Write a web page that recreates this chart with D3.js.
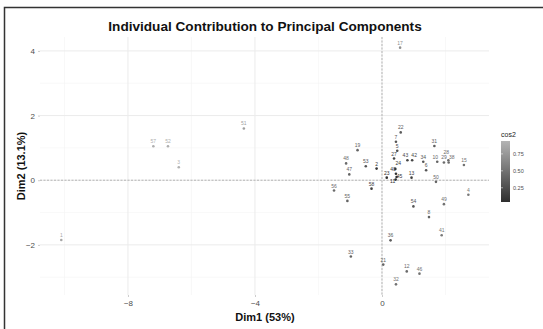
<!DOCTYPE html>
<html>
<head>
<meta charset="utf-8">
<script src="https://cdn.jsdelivr.net/npm/d3@7"></script>
<style>
  body { margin: 0; background: #fff; }
  text { font-family: "Liberation Sans", Arial, sans-serif; }
</style>
</head>
<body>
<div id="chart"></div>
<script>
'use strict';

// individuals, coordinates on Dim1 / Dim2 and their cos2
var labels = ["1", "57", "52", "3", "51", "17", "22", "7", "5", "27",
  "19", "48", "47", "53", "2", "23", "24", "40", "45", "11",
  "43", "42", "13", "34", "6", "31", "10", "29", "28", "38",
  "15", "50", "4", "56", "58", "55", "54", "49", "8", "36",
  "41", "33", "21", "12", "46", "32"];
var dim1 = [-10.1, -7.2, -6.74, -6.4, -4.35, 0.57, 0.59, 0.44, 0.48, 0.38,
  -0.77, -1.13, -1.03, -0.51, -0.17, 0.15, 0.42, 0.44, 0.46, 0.43,
  0.8, 0.95, 0.93, 1.3, 1.39, 1.65, 1.74, 1.95, 2.09, 2.1,
  2.58, 1.7, 2.72, -1.51, -0.33, -1.09, 0.99, 1.95, 1.48, 0.27,
  1.88, -0.98, 0.04, 0.78, 1.18, 0.44];
var dim2 = [-1.85, 1.05, 1.05, 0.4, 1.6, 4.1, 1.48, 1.19, 0.91, 0.67,
  0.93, 0.52, 0.18, 0.43, 0.36, 0.08, 0.35, 0.2, 0.1, 0.02,
  0.62, 0.62, 0.08, 0.57, 0.31, 1.06, 0.57, 0.55, 0.62, 0.55,
  0.47, -0.05, -0.45, -0.32, -0.26, -0.64, -0.81, -0.74, -1.14, -1.86,
  -1.7, -2.36, -2.61, -2.82, -2.89, -3.22];
var cos2 = [0.85, 0.9, 0.9, 0.92, 0.8, 0.7, 0.35, 0.3, 0.25, 0.2,
  0.4, 0.45, 0.4, 0.3, 0.1, 0.05, 0.1, 0.08, 0.06, 0.05,
  0.2, 0.2, 0.15, 0.3, 0.3, 0.35, 0.4, 0.45, 0.45, 0.45,
  0.5, 0.4, 0.55, 0.45, 0.15, 0.4, 0.3, 0.5, 0.4, 0.35,
  0.55, 0.4, 0.4, 0.45, 0.5, 0.5];

var xTicks = [-8, -4, 0];
var yTicks = [-2, 0, 2, 4];
var legendTicks = [0.25, 0.5, 0.75];

var width = 543, height = 329;
var panel = {left: 40, right: 489, top: 37, bottom: 295};

var svg = d3.select('#chart').append('svg')
  .attr('width', width).attr('height', height);

// frame (top and left edges only, as in the screenshot)
svg.append('path').attr('d', 'M4.5,329V7.5H543')
  .attr('fill', 'none').attr('stroke', '#333').attr('stroke-width', 1.5);

var x = d3.scaleLinear().domain([-10.77, 3.37]).range([panel.left, panel.right]);
var y = d3.scaleLinear().domain([-3.55, 4.43]).range([panel.bottom, panel.top]);
var color = d3.scaleLinear().domain([0.04, 0.94]).range(['#2e2e2e', '#b4b4b4']);

// grid: minor then major
var minorX = [-10, -6, -2, 2], minorY = [-3, -1, 1, 3];
var grid = svg.append('g');
grid.selectAll('.mx').data(minorX).join('line')
  .attr('x1', d => x(d)).attr('x2', d => x(d))
  .attr('y1', panel.top).attr('y2', panel.bottom)
  .attr('stroke', '#f3f3f3').attr('stroke-width', 0.6);
grid.selectAll('.my').data(minorY).join('line')
  .attr('y1', d => y(d)).attr('y2', d => y(d))
  .attr('x1', panel.left).attr('x2', panel.right)
  .attr('stroke', '#f3f3f3').attr('stroke-width', 0.6);
grid.selectAll('.Mx').data(xTicks).join('line')
  .attr('x1', d => x(d)).attr('x2', d => x(d))
  .attr('y1', panel.top).attr('y2', panel.bottom)
  .attr('stroke', '#ebebeb').attr('stroke-width', 1);
grid.selectAll('.My').data(yTicks).join('line')
  .attr('y1', d => y(d)).attr('y2', d => y(d))
  .attr('x1', panel.left).attr('x2', panel.right)
  .attr('stroke', '#ebebeb').attr('stroke-width', 1);

// zero lines
svg.append('line').attr('x1', panel.left).attr('x2', panel.right)
  .attr('y1', y(0)).attr('y2', y(0))
  .attr('stroke', '#999').attr('stroke-width', 0.7).attr('stroke-dasharray', '2,1.5');
svg.append('line').attr('x1', x(0)).attr('x2', x(0))
  .attr('y1', panel.top).attr('y2', panel.bottom)
  .attr('stroke', '#999').attr('stroke-width', 0.7).attr('stroke-dasharray', '2,1.5');

// axes
var xAxis = svg.append('g').attr('transform', `translate(0,${panel.bottom})`)
  .call(d3.axisBottom(x).tickValues(xTicks).tickSize(2).tickPadding(3));
var yAxis = svg.append('g').attr('transform', `translate(${panel.left},0)`)
  .call(d3.axisLeft(y).tickValues(yTicks).tickSize(2).tickPadding(3));
[xAxis, yAxis].forEach(function(a) {
  a.select('.domain').remove();
  a.selectAll('.tick line').attr('stroke', '#ccc');
  a.selectAll('.tick text').attr('fill', '#4d4d4d').style('font-size', '8px')
    .style('font-family', '"Liberation Sans", Arial, sans-serif');
});

// points and labels
var pts = labels.map((l, i) => ({label: l, x: dim1[i], y: dim2[i], c: cos2[i]}));
svg.append('g').selectAll('circle').data(pts).join('circle')
  .attr('cx', d => x(d.x)).attr('cy', d => y(d.y)).attr('r', 1.3)
  .attr('fill', d => color(d.c));

// crowded labels get pushed apart a little (the original simply overlaps)
var nudge = {'28': [-2, -3], '38': [3, 0], '10': [-2, 0], '40': [-3, 0], '45': [3, 4],
  '11': [-3, 6], '24': [3, -1], '42': [2, 0], '43': [-2, 0]};
svg.append('g').selectAll('text').data(pts).join('text')
  .attr('x', d => x(d.x) + (nudge[d.label] ? nudge[d.label][0] : 0))
  .attr('y', d => y(d.y) - 3 + (nudge[d.label] ? nudge[d.label][1] : 0))
  .attr('text-anchor', 'middle').style('font-size', '5px')
  .attr('fill', d => color(d.c)).text(d => d.label);

// titles
svg.append('text').attr('x', 265).attr('y', 31).attr('text-anchor', 'middle')
  .style('font-size', '13.6px').style('font-weight', 'bold').attr('fill', '#111')
  .text('Individual Contribution to Principal Components');
svg.append('text').attr('x', 265).attr('y', 321).attr('text-anchor', 'middle')
  .style('font-size', '11px').style('font-weight', 'bold').attr('fill', '#111')
  .text('Dim1 (53%)');
svg.append('text').attr('transform', 'translate(25,166) rotate(-90)')
  .attr('text-anchor', 'middle')
  .style('font-size', '11px').style('font-weight', 'bold').attr('fill', '#111')
  .text('Dim2 (13.1%)');

// colour bar legend
var lg = {x: 501, w: 9, top: 141, bottom: 202};
var ly = d3.scaleLinear().domain([0.04, 0.94]).range([lg.bottom, lg.top]);
var defs = svg.append('defs');
var grad = defs.append('linearGradient').attr('id', 'cbar')
  .attr('x1', 0).attr('x2', 0).attr('y1', 1).attr('y2', 0);
grad.append('stop').attr('offset', '0%').attr('stop-color', color(0.04));
grad.append('stop').attr('offset', '100%').attr('stop-color', color(0.94));
svg.append('rect').attr('x', lg.x).attr('y', lg.top).attr('width', lg.w)
  .attr('height', lg.bottom - lg.top).attr('fill', 'url(#cbar)');
svg.append('g').selectAll('line').data(legendTicks).join('line')
  .attr('x1', lg.x).attr('x2', lg.x + 2).attr('y1', d => ly(d)).attr('y2', d => ly(d))
  .attr('stroke', '#fff').attr('stroke-width', 0.5);
svg.append('g').selectAll('text').data(legendTicks).join('text')
  .attr('x', lg.x + lg.w + 3).attr('y', d => ly(d) + 2)
  .style('font-size', '5.5px').attr('fill', '#4d4d4d')
  .text(d => d3.format('.2f')(d));
svg.append('text').attr('x', lg.x).attr('y', 137)
  .style('font-size', '7px').attr('fill', '#222').text('cos2');
</script>
</body>
</html>
